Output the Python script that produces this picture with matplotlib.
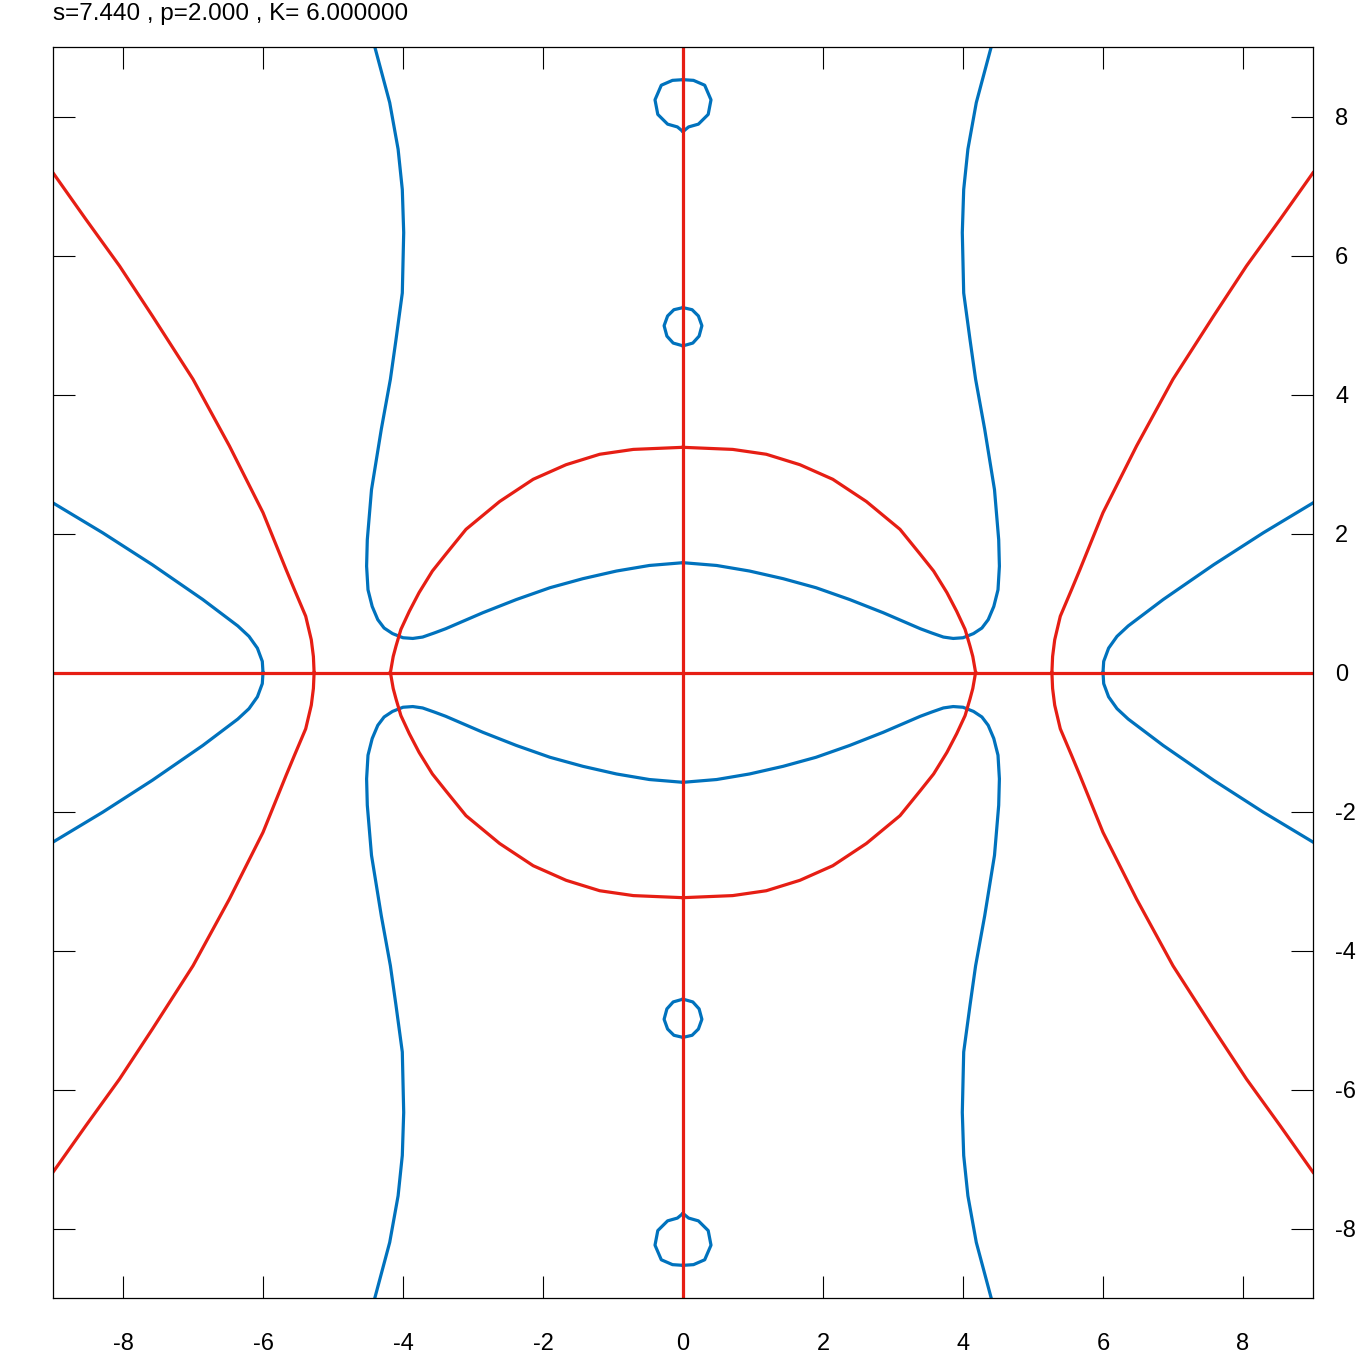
import numpy as np
import matplotlib.pyplot as plt

plt.rcParams['axes.unicode_minus'] = False
plt.rcParams['font.family'] = ['Liberation Sans', 'DejaVu Sans']

# values, first quadrant only (the plot is symmetric in x and y)
red_circle_x = [0.0, 0.71, 1.19, 1.67, 2.14, 2.62, 3.10, 3.39, 3.58, 3.77, 3.91, 4.03, 4.10, 4.14, 4.18]
red_circle_y = [3.24, 3.21, 3.14, 2.99, 2.78, 2.46, 2.06, 1.70, 1.46, 1.15, 0.88, 0.62, 0.38, 0.23, 0.0]

red_hyp_x = [5.27, 5.28, 5.31, 5.39, 5.55, 5.67, 6.00, 6.48, 7.00, 7.58, 8.05, 8.53, 9.00]
red_hyp_y = [0.0, 0.23, 0.47, 0.81, 1.19, 1.48, 2.30, 3.26, 4.22, 5.13, 5.85, 6.52, 7.19]

blue_hyp_x = [6.00, 6.01, 6.08, 6.20, 6.36, 6.86, 7.58, 8.29, 9.00]
blue_hyp_y = [0.0, 0.16, 0.35, 0.52, 0.67, 1.05, 1.55, 2.01, 2.44]

blue_arm_x = [0.0, 0.48, 0.95, 1.43, 1.90, 2.38, 2.86, 3.39, 3.55, 3.72, 3.86, 4.00, 4.15,
              4.27, 4.36, 4.44, 4.50, 4.52, 4.51, 4.45, 4.31, 4.18, 4.10, 4.01, 3.99,
              4.01, 4.07, 4.19, 4.40]
blue_arm_y = [1.58, 1.54, 1.46, 1.35, 1.22, 1.05, 0.86, 0.63, 0.57, 0.51, 0.49, 0.50, 0.56,
              0.64, 0.76, 0.95, 1.19, 1.53, 1.91, 2.63, 3.50, 4.22, 4.79, 5.46, 6.33,
              6.95, 7.53, 8.20, 8.99]

loop_top_x = [0.0, 0.15, 0.31, 0.40, 0.36, 0.22, 0.08, 0.02, 0.0]
loop_top_y = [8.53, 8.52, 8.45, 8.24, 8.03, 7.89, 7.85, 7.80, 7.78]

loop_mid_x = [0.0, 0.13, 0.22, 0.27, 0.23, 0.14, 0.0]
loop_mid_y = [5.25, 5.22, 5.13, 4.99, 4.84, 4.74, 4.70]

axis_line = [-9, 9]
ticks = [-8, -6, -4, -2, 0, 2, 4, 6, 8]

RED = '#e61e14'
BLUE = '#0072bd'

fig = plt.figure(figsize=(13.66, 13.66), dpi=100)
ax = fig.add_axes([53/1366, 68/1366, 1260/1366, 1251/1366])


def draw4(xs, ys, color):
    xs = np.asarray(xs)
    ys = np.asarray(ys)
    for sx in (1, -1):
        for sy in (1, -1):
            ax.plot(sx * xs, sy * ys, '-', color=color, linewidth=2.3,
                    solid_joinstyle='round')


draw4(blue_arm_x, blue_arm_y, BLUE)
draw4(blue_hyp_x, blue_hyp_y, BLUE)
draw4(loop_top_x, loop_top_y, BLUE)
draw4(loop_mid_x, loop_mid_y, BLUE)

ax.plot(axis_line, [0, 0], '-', color=RED, linewidth=2.3)
ax.plot([0, 0], axis_line, '-', color=RED, linewidth=2.3)
draw4(red_circle_x, red_circle_y, RED)
draw4(red_hyp_x, red_hyp_y, RED)

ax.set_xlim(-9, 9)
ax.set_ylim(-9, 9)
ax.set_xticks(ticks)
ax.set_yticks(ticks)
ax.tick_params(axis='both', direction='in', length=16, width=0.8,
               top=True, right=True, labelsize=17)
ax.tick_params(axis='x', pad=25)
ax.tick_params(axis='y', left=True, labelleft=False, labelright=True, pad=16)
for sp in ax.spines.values():
    sp.set_linewidth(0.9)

fig.text(53/1366, 1 - 14/1366, 's=7.440 , p=2.000 , K= 6.000000',
         ha='left', va='center', fontsize=17.5)

fig.savefig('out.png', dpi=100)
